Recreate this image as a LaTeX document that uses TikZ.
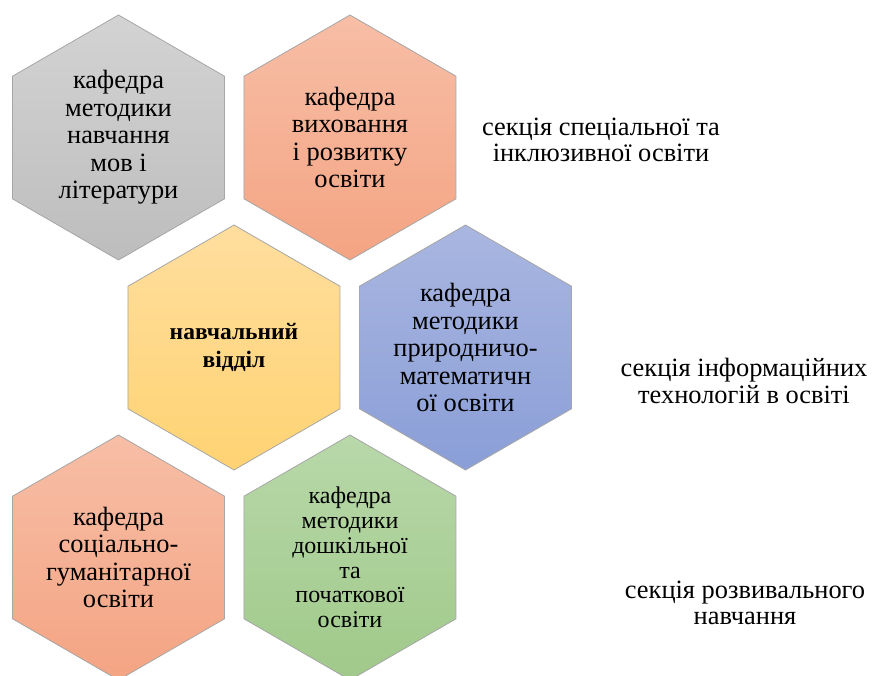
\documentclass[tikz,border=0pt]{standalone}
\usepackage{fontspec}
\setmainfont{Liberation Serif}
\usetikzlibrary{shapes.geometric}

\definecolor{grayTop}{HTML}{D3D3D3}
\definecolor{grayBot}{HTML}{BDBDBD}
\definecolor{peachTop}{HTML}{F7BEA6}
\definecolor{peachBot}{HTML}{F4A483}
\definecolor{goldTop}{HTML}{FFDE9E}
\definecolor{goldBot}{HTML}{FFD373}
\definecolor{blueTop}{HTML}{A9B6E0}
\definecolor{blueBot}{HTML}{8A9ED7}
\definecolor{greenTop}{HTML}{B8D8A9}
\definecolor{greenBot}{HTML}{A0C98A}

\begin{document}
\begin{tikzpicture}[x=1pt, y=-1pt,
    hexa/.style 2 args = {regular polygon, regular polygon sides=6,
      shape border rotate=30, minimum size=245pt, inner sep=0pt,
      draw=black!35, line width=0.8pt,
      top color=#1, bottom color=#2},
    inhex/.style = {align=center, inner sep=0pt,
      font=\fontsize{26.4}{27.5}\selectfont},
    section/.style = {align=center, font=\fontsize{26.4}{26.5}\selectfont}]
  \useasboundingbox (0,0) rectangle (872,675);
  \node[hexa={grayTop}{grayBot},
    label={[inhex]center:{кафедра\\методики\\навчання\\мов і\\літератури}}]
    (methLang) at (118.5,137.5) {};
  \node[hexa={peachTop}{peachBot},
    label={[inhex]center:{кафедра\\виховання\\і розвитку\\освіти}}]
    (upbringing) at (350,137.5) {};
  \node[hexa={goldTop}{goldBot},
    label={[inhex, font=\fontsize{23.5}{27.5}\selectfont\bfseries]center:{навчальний\\відділ}}]
    (studyDept) at (234,347.5) {};
  \node[hexa={blueTop}{blueBot},
    label={[inhex]center:{кафедра\\методики\\природничо-\\математичн\\ої освіти}}]
    (natMath) at (465.5,347.5) {};
  \node[hexa={peachTop}{peachBot},
    label={[inhex]center:{кафедра\\соціально-\\гуманітарної\\освіти}}]
    (socHum) at (118.5,557.5) {};
  \node[hexa={greenTop}{greenBot},
    label={[inhex, font=\fontsize{24}{24.7}\selectfont]center:{кафедра\\методики\\дошкільної\\та\\початкової\\освіти}}]
    (preschool) at (350,557.5) {};

  \node[section] (secSpecial) at (601,140)
    {секція спеціальної та\\інклюзивної освіти};
  \node[section] (secIT) at (744,381)
    {секція інформаційних\\технологій в освіті};
  \node[section] (secDevel) at (745,603)
    {секція розвивального\\навчання};
\end{tikzpicture}
\end{document}
